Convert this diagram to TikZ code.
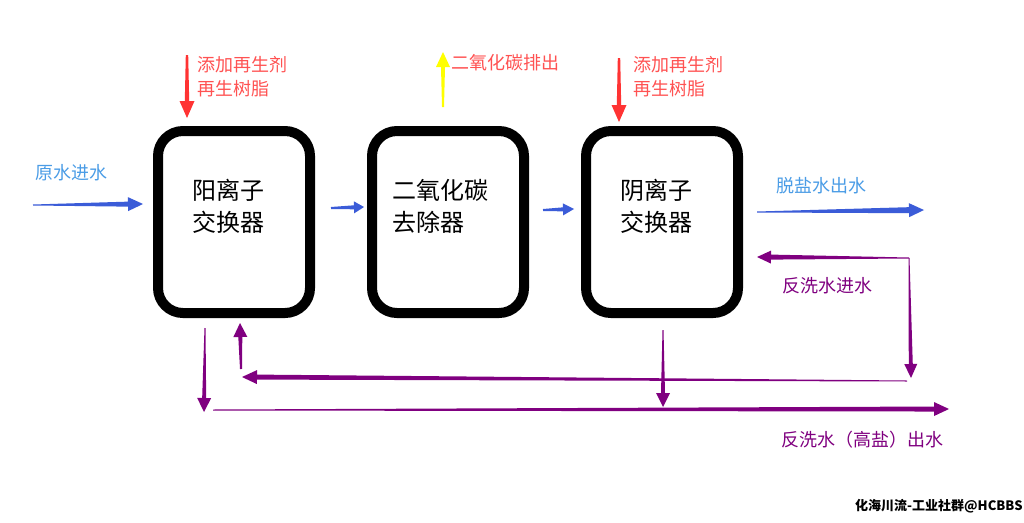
\documentclass[tikz,border=0pt]{standalone}
\usepackage{fontspec}
\newfontfamily\cjk{Noto Sans CJK SC}
\usetikzlibrary{positioning,calc}

\definecolor{flowblue}{RGB}{59,92,216}
\definecolor{textblue}{RGB}{74,156,230}
\definecolor{flowred}{RGB}{255,51,51}
\definecolor{textred}{RGB}{255,82,82}
\definecolor{flowyellow}{RGB}{255,255,0}
\definecolor{flowpurple}{RGB}{128,0,128}

% tapered arrow: colour, from, to, tail half width, body half width, head length, head half width
\newcommand{\flowarrow}[7]{%
  \coordinate (fa) at ($(#3)!#6pt!(#2)$);
  \fill[#1] ($(#2)!#4pt!90:(#3)$) -- ($(fa)!#5pt!90:(#3)$) -- ($(fa)!#7pt!90:(#3)$) -- (#3)
    -- ($(fa)!#7pt!-90:(#3)$) -- ($(fa)!#5pt!-90:(#3)$) -- ($(#2)!#4pt!-90:(#3)$) -- cycle;
}

\tikzset{
  unit/.style={draw, line width=10pt, rounded corners=25pt,
    minimum width=152pt, minimum height=182pt},
  unittext/.style={font=\cjk\fontsize{24}{32}\selectfont, align=left,
    anchor=north west, inner sep=0pt},
  flowtext/.style={font=\cjk\fontsize{18}{24}\selectfont, align=left,
    anchor=north west, inner sep=0pt}
}

\begin{document}
\begin{tikzpicture}[x=1pt, y=-1pt] % pixel coordinates, y pointing down

    \fill[white] (0,0) rectangle (1024,522);
    \useasboundingbox (0,0) rectangle (1024,522);

    % Draw the three units
    \node[unit] (cation) at (234,222) {};
    \node[unit, right=52pt of cation] (degas) {};
    \node[unit, right=52pt of degas] (anion) {};

    \node[unittext] at ([shift={(39,53)}]cation.north west) {阳离子\\交换器};
    \node[unittext] at ([shift={(25,53)}]degas.north west) {二氧化碳\\去除器};
    \node[unittext] at ([shift={(39,53)}]anion.north west) {阴离子\\交换器};

    % Free ends of the connectors
    \coordinate (rawin) at (33,205);
    \coordinate (regen1) at (187,55);
    \coordinate (regen2) at (619,58);
    \coordinate (co2out) at (443,52);
    \coordinate (prodout) at (924,210);
    \coordinate (bwin) at (909,258);
    \coordinate (bwdown) at (911,378);
    \coordinate (bwret) at (907,381);
    \coordinate (bwleft) at (242,377);
    \coordinate (drain1) at (204,412);
    \coordinate (drainstart) at (213,410);
    \coordinate (drainout) at (949,409);
    \coordinate (drain2) at (663,407);

    % Main water flow (blue)
    \flowarrow{flowblue}{rawin}{$(cation.west)+(-10,-18)$}{0.5}{2.5}{15}{7}
    \flowarrow{flowblue}{$(cation.east)+(16,-14)$}{$(degas.west)+(-3,-15)$}{1}{2}{10}{6}
    \flowarrow{flowblue}{$(degas.east)+(14,-12)$}{$(anion.west)+(-7,-13)$}{1}{2}{11}{6}
    \flowarrow{flowblue}{$(anion.east)+(14,-10)$}{prodout}{0.5}{3}{15}{7}

    % Regenerant and CO2
    \flowarrow{flowred}{regen1}{$(cation.north)+(-47,-8)$}{1.2}{2.2}{17}{7.5}
    \flowarrow{flowred}{regen2}{$(anion.north)+(-43,-4)$}{1.2}{2.2}{17}{7.5}
    \flowarrow{flowyellow}{$(degas.north)+(-5,-19)$}{co2out}{1}{2}{15}{7}

    % Backwash water (purple)
    \flowarrow{flowpurple}{bwin}{$(anion.east)+(14,35)$}{0.5}{2.5}{14}{6.5}
    \flowarrow{flowpurple}{bwin}{bwdown}{0.5}{2}{14}{6.5}
    \flowarrow{flowpurple}{bwret}{bwleft}{0.5}{2.5}{15}{7}
    \flowarrow{flowpurple}{$(bwleft)+(-1,-8)$}{$(cation.south)+(6,5)$}{1}{2}{14}{7}
    \flowarrow{flowpurple}{$(cation.south)+(-29,10)$}{drain1}{0.5}{2}{14}{7}
    \flowarrow{flowpurple}{drainstart}{drainout}{0.5}{2.5}{15}{7}
    \flowarrow{flowpurple}{$(anion.south)+(1,12)$}{drain2}{0.5}{2}{14}{7}

    % Labels
    \node[flowtext, textblue] (rawlabel) at (35,164) {原水进水};
    \node[flowtext, textred] (regenlabel1) at (197,56) {添加再生剂\\再生树脂};
    \node[flowtext, textred] (co2label) at (451,54) {二氧化碳排出};
    \node[flowtext, textred] (regenlabel2) at (633,56) {添加再生剂\\再生树脂};
    \node[flowtext, textblue] (prodlabel) at (776,177) {脱盐水出水};
    \node[flowtext, flowpurple] (bwlabel) at (782,277) {反洗水进水};
    \node[flowtext, flowpurple] (drainlabel) at (781,431) {反洗水（高盐）出水};

    % Watermark
    \node[anchor=north west, inner sep=0pt, font=\cjk\bfseries\fontsize{13}{15}\selectfont] (mark) at (855,499) {化海川流-工业社群@HCBBS};

\end{tikzpicture}
\end{document}
